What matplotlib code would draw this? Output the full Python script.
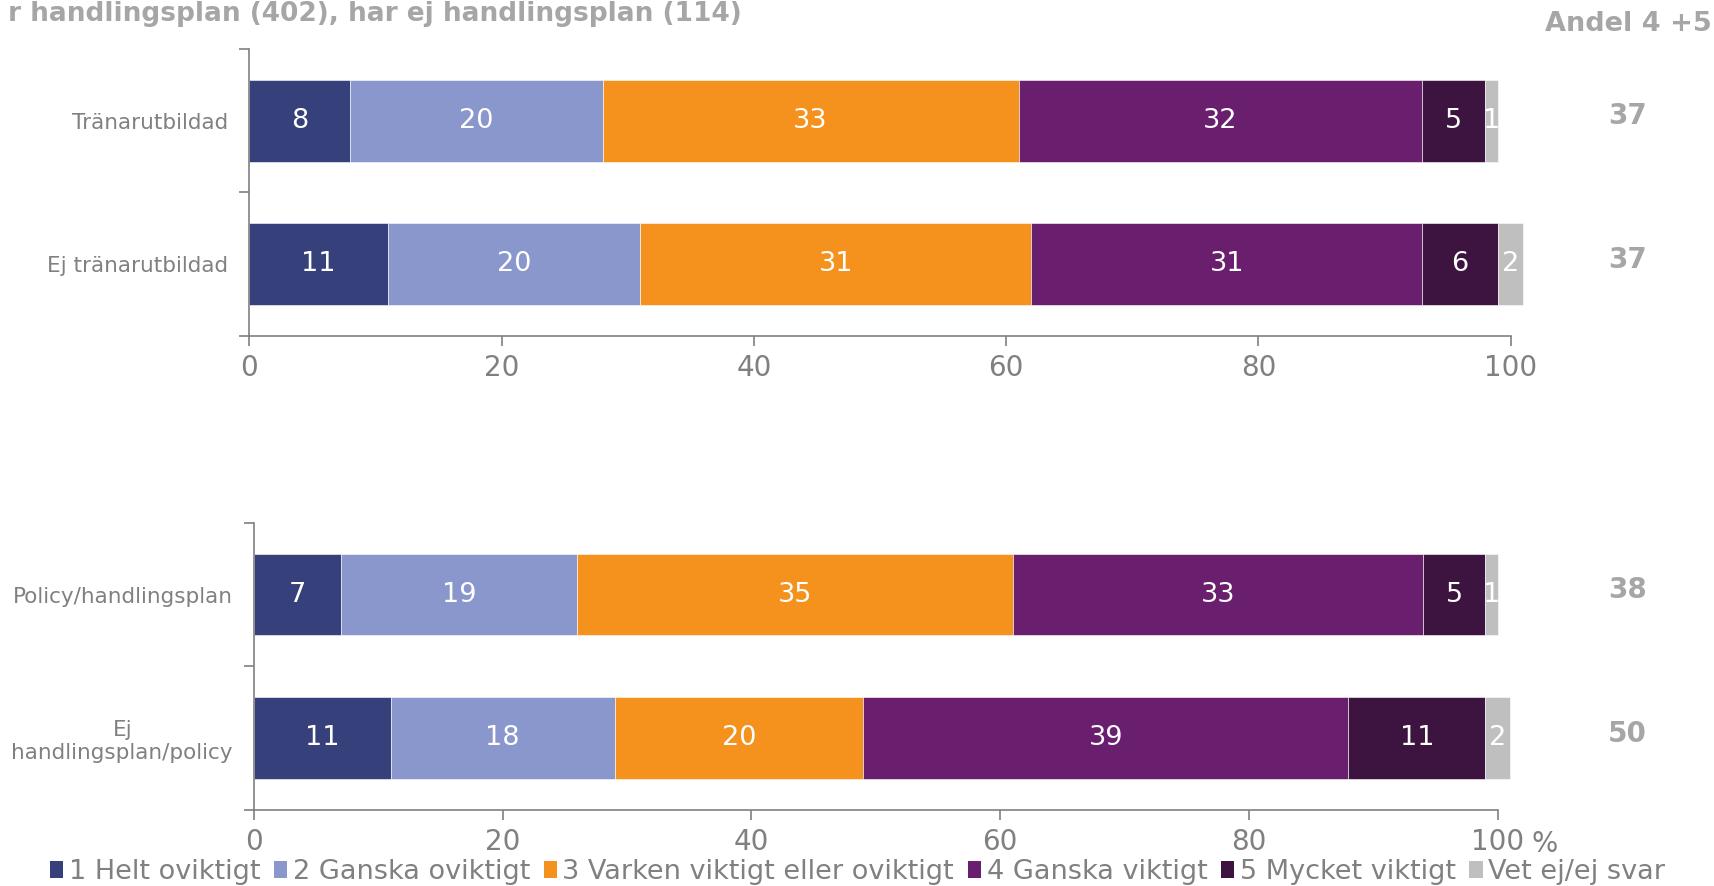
import matplotlib
matplotlib.use("Agg")
import matplotlib.pyplot as plt
from matplotlib.patches import Patch
import matplotlib.transforms as mtrans

# data
series = ["1 Helt oviktigt", "2 Ganska oviktigt", "3 Varken viktigt eller oviktigt",
          "4 Ganska viktigt", "5 Mycket viktigt", "Vet ej/ej svar"]
colors = ["#36407A", "#8A97CD", "#F5921E", "#6A1E6E", "#3D1340", "#BFBFBF"]

top_cats = ["Tränarutbildad", "Ej tränarutbildad"]
top_vals = [[8, 20, 33, 32, 5, 1],
            [11, 20, 31, 31, 6, 2]]
top_share = [37, 37]

bot_cats = ["Policy/handlingsplan", "Ej\nhandlingsplan/policy"]
bot_vals = [[7, 19, 35, 33, 5, 1],
            [11, 18, 20, 39, 11, 2]]
bot_share = [38, 50]

xticks = [0, 20, 40, 60, 80, 100]

gray = "#808080"
lgray = "#A6A6A6"
plt.rcParams['font.family'] = ['DejaVu Sans']

fig = plt.figure(figsize=(17.15, 8.86), dpi=100)
ax1 = fig.add_axes([0.1454, 0.6208, 0.7354, 0.3239])
ax2 = fig.add_axes([0.1480, 0.0863, 0.7253, 0.3234])


def draw(ax, cats, vals, share):
    for i, row in enumerate(vals):
        left = 0
        for j, v in enumerate(row):
            ax.barh(i, v, left=left, height=0.57, color=colors[j],
                    edgecolor="white", linewidth=0.4, clip_on=False)
            ax.text(left + v / 2, i, str(v), color="white", fontsize=19.5,
                    ha="center", va="center")
            left += v
    trans = mtrans.blended_transform_factory(fig.transFigure, ax.transData)
    for i, s in enumerate(share):
        ax.text(0.949, i - 0.03, str(s), transform=trans, color=lgray,
                fontsize=20, fontweight="bold", ha="center", va="center")
    ax.set_xlim(0, 100)
    ax.set_ylim(1.5, -0.5)
    ax.set_xticks(xticks)
    ax.set_xticklabels([str(t) for t in xticks])
    ax.set_yticks([-0.5, 0.5, 1.5])
    ax.set_yticklabels([])
    ax.set_yticks([0, 1], minor=True)
    ax.set_yticklabels(cats, minor=True, fontsize=15.5, color=gray,
                       multialignment="center")
    ax.tick_params(axis="y", which="minor", length=0, pad=15)
    ax.tick_params(axis="y", which="major", length=7, color=gray, width=1.2)
    ax.tick_params(axis="x", length=7, color=gray, width=1.2,
                   labelsize=20, labelcolor=gray, pad=6)
    for side in ["top", "right"]:
        ax.spines[side].set_visible(False)
    for side in ["left", "bottom"]:
        ax.spines[side].set_color(gray)
        ax.spines[side].set_linewidth(1.2)


draw(ax1, top_cats, top_vals, top_share)
draw(ax2, bot_cats, bot_vals, bot_share)

ax2.text(1.027, -0.07, "%", transform=ax2.transAxes, fontsize=20,
         color=gray, ha="left", va="top")

fig.text(0.4327, 0.984, "r handlingsplan (402), har ej handlingsplan (114)",
         fontsize=19, fontweight="bold", color=lgray, ha="right", va="center")
fig.text(0.998, 0.973, "Andel 4 +5", fontsize=19.5, fontweight="bold",
         color=lgray, ha="right", va="center")

handles = [Patch(facecolor=c, label=s) for c, s in zip(colors, series)]
fig.legend(handles=handles, loc="center", bbox_to_anchor=(0.5, 0.016),
           ncol=6, frameon=False, fontsize=19.5, labelcolor=gray,
           handlelength=0.5, handleheight=0.6, handletextpad=0.2,
           columnspacing=0.5, borderaxespad=0)

fig.savefig("out.png", dpi=100)
